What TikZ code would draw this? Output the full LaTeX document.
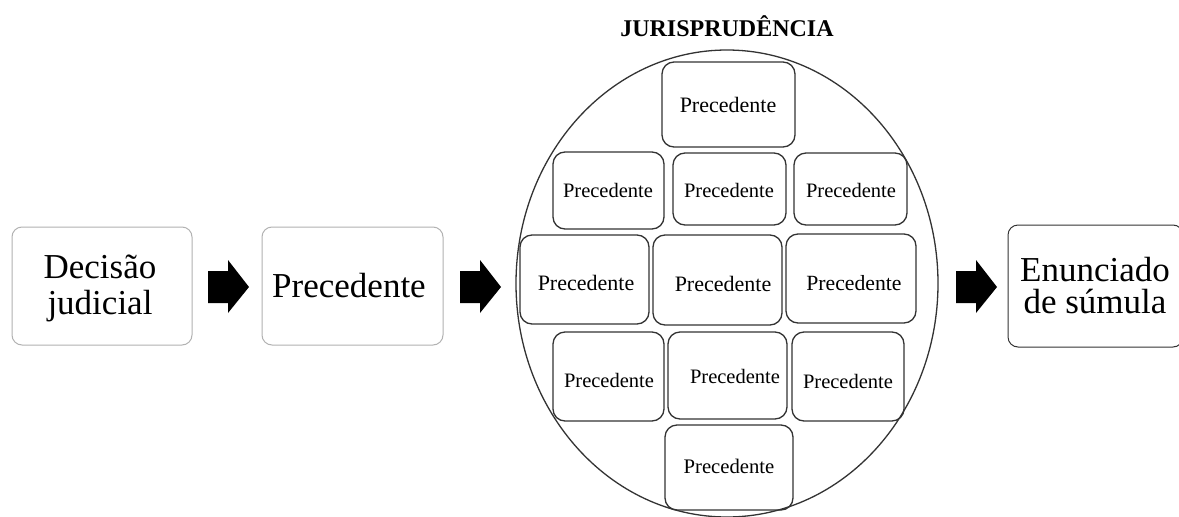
\documentclass[tikz,border=0pt]{standalone}
\usepackage{fontspec}
\setmainfont{Liberation Serif}
\usetikzlibrary{shapes.geometric}
\tikzset{
  bigbox/.style={draw=#1, line width=1pt, rounded corners=10pt, inner sep=0pt},
  ibox/.style={draw=black!80, line width=1.3pt, rounded corners=12pt, inner sep=0pt},
  itext/.style={anchor=base, inner sep=0pt, font=\fontsize{#1}{24}\selectfont},
  bigtext/.style={align=center, inner sep=0pt, font=\fontsize{35}{37}\selectfont},
  blockarrow/.style={fill=black, draw=none},
}
\newcommand{\blockarrowat}[1]{%
  \fill[blockarrow, shift={(#1,0)}] (0,271) -- (20,271) -- (20,260) -- (41,287) -- (20,313) -- (20,303) -- (0,303) -- cycle;}
\begin{document}
\begin{tikzpicture}[x=1pt,y=-1pt]
\useasboundingbox[fill=white] (0,0) rectangle (1179,517);

% main boxes
\node[bigbox=black!30, minimum width=180pt, minimum height=118pt] (dec) at (102,286) {};
\node[bigtext] (dect) at (100,288) {Decisão\\[-1pt]judicial};
\node[bigbox=black!30, minimum width=181pt, minimum height=118pt] (prec) at (352.5,286) {};
\node[bigtext] (prect) at (349,286) {Precedente};
\node[bigbox=black!80, minimum width=175pt, minimum height=122pt] (enun) at (1095.5,286) {};
\node[bigtext, font=\fontsize{35}{32}\selectfont] (enunt) at (1095,286) {Enunciado\\de súmula};

% block arrows
\blockarrowat{208}
\blockarrowat{460}
\blockarrowat{956}

% jurisprudencia
\node[anchor=base, inner sep=0pt, font=\bfseries\fontsize{24}{28}\selectfont] (title) at (727,36) {JURISPRUDÊNCIA};
\node[ellipse, draw=black!80, line width=1.3pt, inner sep=0pt, minimum width=422pt, minimum height=467pt] (jur) at (727,283.5) {};

% inner boxes
\node[ibox, minimum width=133pt, minimum height=85pt] (p1) at (728.5,104.5) {};
\node[ibox, minimum width=111pt, minimum height=77pt] (p2) at (608.5,190.5) {};
\node[ibox, minimum width=113pt, minimum height=72pt] (p3) at (729.5,189) {};
\node[ibox, minimum width=113pt, minimum height=72pt] (p4) at (850.5,189) {};
\node[ibox, minimum width=129pt, minimum height=89pt] (p5) at (584.5,279.5) {};
\node[ibox, minimum width=129pt, minimum height=90pt] (p6) at (717.5,280) {};
\node[ibox, minimum width=130pt, minimum height=89pt] (p7) at (851,278.5) {};
\node[ibox, minimum width=111pt, minimum height=89pt] (p8) at (608.5,376.5) {};
\node[ibox, minimum width=119pt, minimum height=87pt] (p9) at (727.5,375.5) {};
\node[ibox, minimum width=112pt, minimum height=89pt] (p10) at (848,376.5) {};
\node[ibox, minimum width=128pt, minimum height=85pt] (p11) at (729,467.5) {};

% inner texts
\node[itext=22] (t1) at (728,112) {Precedente};
\node[itext=20.5] (t2) at (608,197) {Precedente};
\node[itext=20.5] (t3) at (729,197) {Precedente};
\node[itext=20.5] (t4) at (851,197) {Precedente};
\node[itext=22] (t5) at (586,290) {Precedente};
\node[itext=22] (t6) at (723,291) {Precedente};
\node[itext=21.7] (t7) at (854,290) {Precedente};
\node[itext=20.5] (t8) at (609,387) {Precedente};
\node[itext=20.5] (t9) at (735,383) {Precedente};
\node[itext=20.5] (t10) at (848,388) {Precedente};
\node[itext=20.7] (t11) at (729,473) {Precedente};
\end{tikzpicture}
\end{document}
